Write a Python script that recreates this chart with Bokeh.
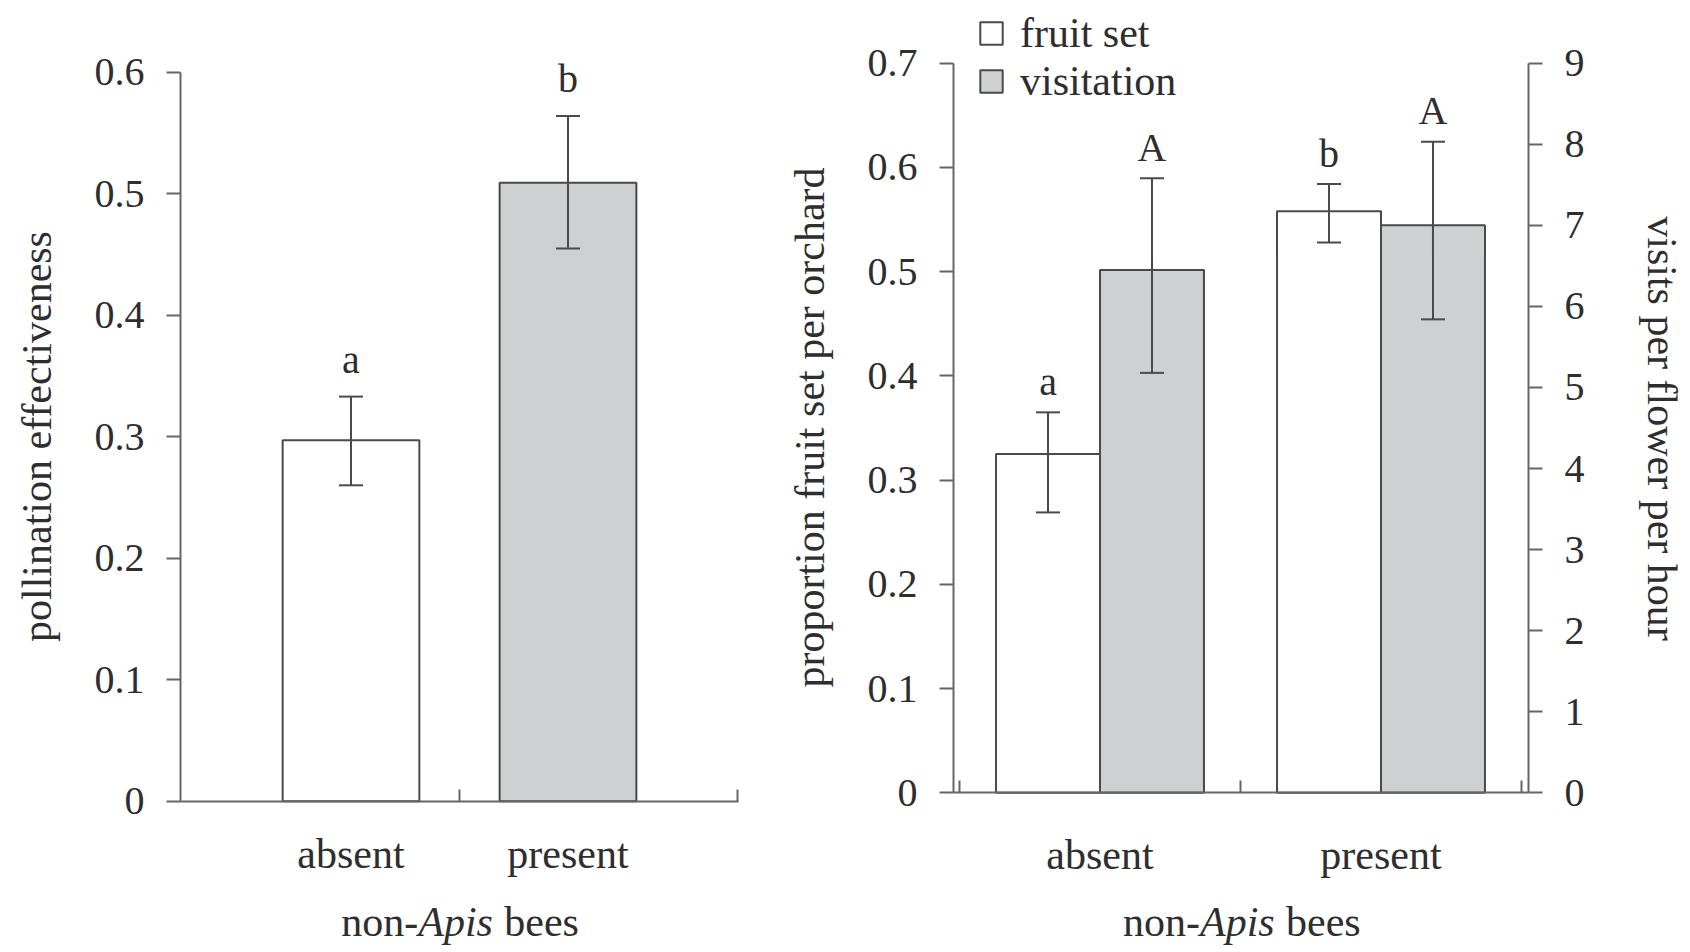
import math
from bokeh.plotting import figure
from bokeh.models import (Range1d, LinearAxis, FixedTicker, Whisker, TeeHead,
                          ColumnDataSource, Label, Legend, LegendItem)
from bokeh.layouts import row
from bokeh.embed import file_html
from bokeh.resources import INLINE
from bokeh.core.properties import value

# ---------------- data ----------------
categories = ["absent", "present"]

# left panel: pollination effectiveness
effectiveness = [0.297, 0.509]
effectiveness_lo = [0.260, 0.455]
effectiveness_hi = [0.333, 0.564]
effectiveness_letters = ["a", "b"]

# right panel: fruit set (left axis) and visitation (right axis)
fruit_set = [0.325, 0.558]
fruit_set_lo = [0.269, 0.528]
fruit_set_hi = [0.365, 0.584]
fruit_set_letters = ["a", "b"]

visits = [6.45, 7.0]
visits_lo = [5.18, 5.84]
visits_hi = [7.58, 8.03]
visits_letters = ["A", "A"]

left_ticks = [0, 0.1, 0.2, 0.3, 0.4, 0.5, 0.6]
right_ticks = [0, 0.1, 0.2, 0.3, 0.4, 0.5, 0.6, 0.7]
visit_ticks = [0, 1, 2, 3, 4, 5, 6, 7, 8, 9]

# ---------------- style ----------------
FONT = "Liberation Serif"
TXT = "#2e2e2e"
AX = "#666666"
EDGE = "#4a4a4a"
GRAY = "#cfd0d2"
TICK_FS = "40px"
LAB_FS = "42px"
H = 950


class Mapper:
    """pixel <-> data helper for one figure (layout only)."""
    def __init__(self, left_px, x0_px, px_per_x, y0_px, px_per_y):
        self.left_px, self.x0_px, self.px_per_x = left_px, x0_px, px_per_x
        self.y0_px, self.px_per_y = y0_px, px_per_y

    def x(self, page_px):
        return (page_px - self.x0_px) / self.px_per_x

    def y(self, page_px):
        return (self.y0_px - page_px) / self.px_per_y


def style_y(ax):
    ax.axis_line_color = AX
    ax.axis_line_width = 2
    ax.major_tick_line_color = AX
    ax.major_tick_line_width = 2
    ax.major_tick_out = 14
    ax.major_tick_in = 0
    ax.minor_tick_line_color = None
    ax.major_label_text_font = FONT
    ax.major_label_text_font_size = TICK_FS
    ax.major_label_text_color = TXT
    ax.major_label_standoff = 22
    ax.axis_label = None


def style_x(ax, ticks_major, ticks_minor, standoff):
    ax.ticker = FixedTicker(ticks=ticks_major, minor_ticks=ticks_minor)
    ax.major_label_overrides = {i: c for i, c in enumerate(categories)}
    ax.axis_line_color = AX
    ax.axis_line_width = 2
    ax.major_tick_line_color = None
    ax.minor_tick_line_color = AX
    ax.minor_tick_line_width = 2
    ax.minor_tick_in = 12
    ax.minor_tick_out = 0
    ax.major_label_text_font = FONT
    ax.major_label_text_font_size = LAB_FS
    ax.major_label_text_color = TXT
    ax.major_label_standoff = standoff
    ax.axis_label = None


def base_fig(width, m):
    xr = Range1d(m.x(m.left_px), m.x(m.left_px + width))
    yr = Range1d(m.y(H), m.y(0))
    p = figure(width=width, height=H, x_range=xr, y_range=yr,
               min_border_left=0, min_border_right=0, min_border_top=0,
               min_border_bottom=0, toolbar_location=None,
               output_backend="svg", tools="")
    p.xgrid.visible = False
    p.ygrid.visible = False
    p.outline_line_color = None
    p.background_fill_color = "white"
    p.border_fill_color = "white"
    return p


def add_text(p, text, x, y, angle=0.0, align="center", style="normal", x_offset=0):
    p.add_layout(Label(text=text, x=x, y=y, angle=angle, x_offset=x_offset,
                       text_align=align, text_baseline="alphabetic",
                       text_font=FONT, text_font_size=LAB_FS,
                       text_font_style=style, text_color=TXT))


def x_title(p, xc, y):
    # "non-" + italic "Apis" + " bees", centred on the axis
    add_text(p, "non-", xc, y, align="right", x_offset=-41)
    add_text(p, "Apis", xc, y, align="left", style="italic", x_offset=-41)
    add_text(p, "bees", xc, y, align="left", x_offset=45)


idx = list(range(len(categories)))

# ================= left panel =================
W1 = 760
m1 = Mapper(0, 350.5, 217.0, 800.7, 1215.0)
L_axx0, L_axx1 = m1.x(180), m1.x(737.5)
p1 = base_fig(W1, m1)

src1 = ColumnDataSource(dict(x=idx, top=effectiveness, lo=effectiveness_lo,
                             hi=effectiveness_hi, letter=effectiveness_letters,
                             fill=["white", GRAY]))
p1.vbar(x="x", top="top", width=0.63, bottom=0, source=src1, fill_color="fill",
        line_color=EDGE, line_width=2)
p1.add_layout(Whisker(source=src1, base="x", upper="hi", lower="lo",
                      line_color=EDGE, line_width=2, level="annotation",
                      upper_head=TeeHead(size=24, line_color=EDGE, line_width=2),
                      lower_head=TeeHead(size=24, line_color=EDGE, line_width=2)))
p1.text(x="x", y="hi", text="letter", source=src1, text_font=value(FONT),
        text_font_size=TICK_FS, text_color=TXT, text_align="center",
        text_baseline="alphabetic", y_offset=-37)

ya1 = p1.yaxis[0]
ya1.ticker = FixedTicker(ticks=left_ticks)
ya1.bounds = (0, 0.6)
ya1.fixed_location = L_axx0
ya1.major_label_overrides = {0: "0"}
style_y(ya1)
xa1 = p1.xaxis[0]
xa1.bounds = (L_axx0, L_axx1)
xa1.fixed_location = 0
style_x(xa1, idx, [0.5, L_axx1 - 0.001], 24)

add_text(p1, "pollination effectiveness", m1.x(36), m1.y(436), angle=math.pi / 2)
x_title(p1, (L_axx0 + L_axx1) / 2, m1.y(921))

# ================= right panel =================
W2 = 928
m2 = Mapper(W1, 1099.5, 281.0, 792.3, 1042.3)
R_axx0, R_axx1 = m2.x(953), m2.x(1528)
p2 = base_fig(W2, m2)
V_scale = 9 / 0.7
p2.extra_y_ranges = {"visits": Range1d(p2.y_range.start * V_scale,
                                       p2.y_range.end * V_scale)}

OFF, BW = 0.185, 0.37
src_f = ColumnDataSource(dict(x=[i - OFF for i in idx], top=fruit_set,
                              lo=fruit_set_lo, hi=fruit_set_hi,
                              letter=fruit_set_letters))
src_v = ColumnDataSource(dict(x=[i + OFF for i in idx], top=visits,
                              lo=visits_lo, hi=visits_hi,
                              letter=visits_letters))

rf = p2.vbar(x="x", top="top", width=BW, bottom=0, source=src_f,
             fill_color="white", line_color=EDGE, line_width=2)
rv = p2.vbar(x="x", top="top", width=BW, bottom=0, source=src_v,
             fill_color=GRAY, line_color=EDGE, line_width=2,
             y_range_name="visits")

for src, yr in ((src_f, "default"), (src_v, "visits")):
    p2.add_layout(Whisker(source=src, base="x", upper="hi", lower="lo",
                          line_color=EDGE, line_width=2, level="annotation",
                          y_range_name=yr,
                          upper_head=TeeHead(size=24, line_color=EDGE, line_width=2),
                          lower_head=TeeHead(size=24, line_color=EDGE, line_width=2)))
    p2.text(x="x", y="hi", text="letter", source=src, text_font=value(FONT),
            text_font_size=TICK_FS, text_color=TXT, text_align="center",
            text_baseline="alphabetic", y_offset=-31, y_range_name=yr)

ya2 = p2.yaxis[0]
ya2.ticker = FixedTicker(ticks=right_ticks)
ya2.bounds = (0, 0.7)
ya2.fixed_location = R_axx0
ya2.major_label_overrides = {0: "0"}
style_y(ya2)

ya3 = LinearAxis(y_range_name="visits", ticker=FixedTicker(ticks=visit_ticks),
                 bounds=(0, 9), fixed_location=R_axx1)
style_y(ya3)
p2.add_layout(ya3, "right")

xa2 = p2.xaxis[0]
xa2.bounds = (R_axx0, R_axx1)
xa2.fixed_location = 0
style_x(xa2, idx, [-0.5, 0.5, 1.5], 33)

add_text(p2, "proportion fruit set per orchard", m2.x(809), m2.y(427),
         angle=math.pi / 2)
add_text(p2, "visits per flower per hour", m2.x(1661), m2.y(428),
         angle=-math.pi / 2)
x_title(p2, (R_axx0 + R_axx1) / 2, m2.y(921))

legend = Legend(items=[LegendItem(label="fruit set", renderers=[rf]),
                       LegendItem(label="visitation", renderers=[rv])],
                location=(217, 845), orientation="vertical",
                label_text_font=FONT, label_text_font_size=LAB_FS,
                label_text_color=TXT, glyph_width=28, glyph_height=28,
                label_standoff=15, spacing=0, padding=0, margin=0,
                border_line_alpha=0, background_fill_alpha=0)
p2.add_layout(legend)

layout = row(p1, p2)
open("out.html", "w").write(file_html(layout, INLINE))
